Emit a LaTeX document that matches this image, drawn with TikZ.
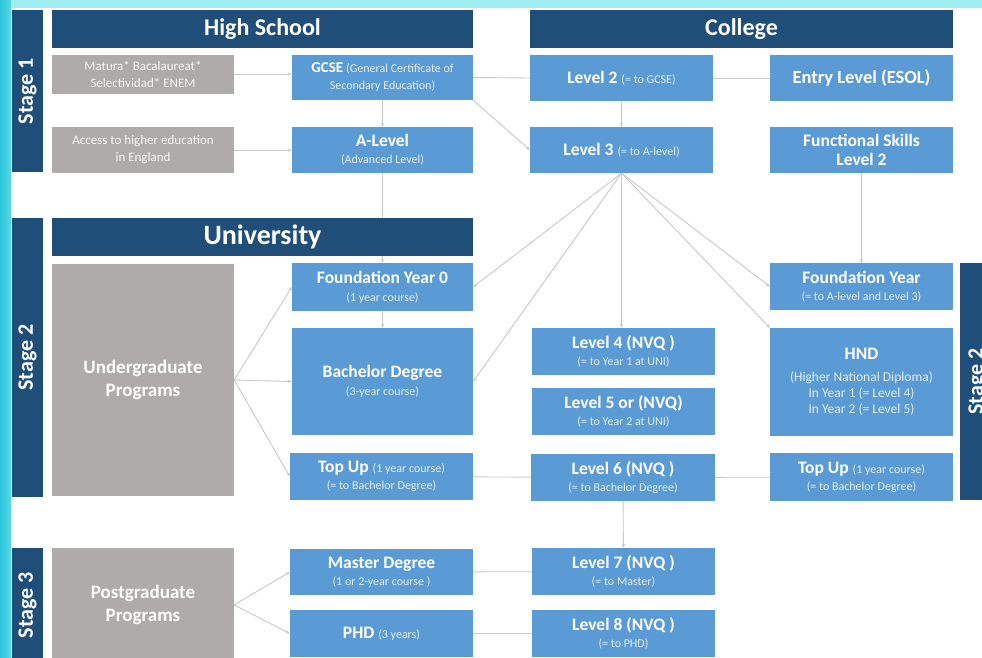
\documentclass[tikz,border=0pt]{standalone}
\usepackage{fontspec}
\setmainfont{Carlito}
\usetikzlibrary{arrows.meta}
\definecolor{navy}{HTML}{1F4E79}
\definecolor{bluebx}{HTML}{5B9BD5}
\definecolor{graybx}{HTML}{AFABAB}
\definecolor{lineg}{HTML}{C8C8C8}
\definecolor{cyanL}{HTML}{9FEFF2}
\definecolor{cyanD}{HTML}{2EC6DE}
\definecolor{subtx}{HTML}{E3EEF8}
\pgfdeclarelayer{bgfill}
\pgfdeclarelayer{lines}
\pgfsetlayers{bgfill,lines,main}
\newcommand\smtxt[1]{{\fontsize{12}{14}\selectfont\mdseries\color{subtx}#1}}
\newcommand\hndtxt[1]{{\fontsize{13.5}{15}\selectfont\mdseries\color{subtx}#1}}
\begin{document}
\begin{tikzpicture}[x=1pt,y=-1pt,
  every node/.style={inner sep=1pt, align=center, text=white},
  hdr/.style={fill=navy, font=\fontsize{24}{26}\selectfont\bfseries},
  bbox/.style={fill=bluebx, font=\fontsize{17.5}{17}\selectfont\bfseries},
  gbox/.style={fill=graybx, font=\fontsize{13}{17}\selectfont, text=white!92!graybx},
  gbig/.style={fill=graybx, font=\fontsize{19}{23}\selectfont\bfseries},
  stg/.style={fill=navy, rotate=90, font=\fontsize{22}{24}\selectfont\bfseries},
  conn/.style={draw=lineg, line width=0.9pt},
  arr/.style={conn, -{Stealth[length=4pt,width=3.5pt]}},
]
\useasboundingbox (0,0) rectangle (982,657);
\begin{pgfonlayer}{bgfill}
\fill[cyanL] (0,0) rectangle (982,657);
\shade[left color=cyanD, right color=cyanD!60!cyanL] (0,0) rectangle (11,657);
\fill[white] (11,8) rectangle (982,657);
\end{pgfonlayer}
\clip (0,0) rectangle (982,657);

% Stage bars
\node[stg, minimum width=162pt, minimum height=31pt] (s1) at (27.5,91) {Stage 1};
\node[stg, minimum width=279pt, minimum height=31pt] (s2) at (27.5,357.5) {Stage 2};
\node[stg, minimum width=114pt, minimum height=31pt] (s3) at (27.5,605) {Stage 3};
\node[stg, minimum width=237pt, minimum height=35pt] (s2r) at (977.5,381.5) {Stage 2};

% Headers
\node[hdr, minimum width=421pt, minimum height=38pt] (hs) at (262.5,29) {High School};
\node[hdr, minimum width=423pt, minimum height=38pt] (col) at (741.5,29) {College};
\node[hdr, minimum width=421pt, minimum height=38pt, font=\fontsize{28}{30}\selectfont\bfseries] (uni) at (262.5,237) {University};

% Stage 1 row
\node[gbox, minimum width=182pt, minimum height=39pt] (mat) at (143,74) {Matura* Bacalaureat*\\Selectividad* ENEM};
\node[bbox, minimum width=181pt, minimum height=45pt] (gcse) at (382.5,77.5) {{\fontsize{15}{15}\selectfont GCSE}\,\smtxt{(General Certificate of}\\\smtxt{Secondary Education)}};
\node[bbox, minimum width=183pt, minimum height=46pt] (l2) at (621.5,78) {Level 2 \smtxt{(= to GCSE)}};
\node[bbox, minimum width=183pt, minimum height=46pt, font=\fontsize{18.5}{17}\selectfont\bfseries] (entry) at (861.5,78) {Entry Level (ESOL)};
\node[gbox, minimum width=182pt, minimum height=46pt] (acc) at (143,150) {Access to higher education\\in England};
\node[bbox, minimum width=181pt, minimum height=46pt] (alev) at (382.5,150) {A-Level\\\smtxt{(Advanced Level)}};
\node[bbox, minimum width=183pt, minimum height=46pt] (l3) at (621.5,150) {Level 3 \smtxt{(= to A-level)}};
\node[bbox, minimum width=183pt, minimum height=46pt] (func) at (861.5,150) {Functional Skills\\[2pt]Level 2};

% Stage 2
\node[gbig, minimum width=182pt, minimum height=232pt] (ug) at (143,380) {Undergraduate\\Programs};
\node[bbox, minimum width=181pt, minimum height=48pt] (fy0) at (382.5,287) {Foundation Year 0\\[1pt]\smtxt{(1 year course)}};
\node[bbox, minimum width=181pt, minimum height=107pt] (bach) at (382.5,381.5) {Bachelor Degree\\[1pt]\smtxt{(3-year course)}};
\node[bbox, minimum width=183pt, minimum height=47pt] (tu1) at (381.5,476.5) {Top Up \smtxt{(1 year course)}\\\smtxt{(= to Bachelor Degree)}};
\node[bbox, minimum width=183pt, minimum height=47pt] (l4) at (623.5,351.5) {Level 4 (NVQ )\\\smtxt{(= to Year 1 at UNI)}};
\node[bbox, minimum width=183pt, minimum height=47pt] (l5) at (623.5,411.5) {Level 5 or (NVQ)\\\smtxt{(= to Year 2 at UNI)}};
\node[bbox, minimum width=184pt, minimum height=47pt] (l6) at (623,477.5) {Level 6 (NVQ )\\\smtxt{(= to Bachelor Degree)}};
\node[bbox, minimum width=183pt, minimum height=47pt] (fy) at (861.5,286.5) {Foundation Year\\\smtxt{(= to A-level and Level 3)}};
\node[bbox, minimum width=183pt, minimum height=108pt] (hnd) at (861.5,382) {HND\\[5pt]\hndtxt{(Higher National Diploma)}\\[-1pt]\hndtxt{In Year 1 (= Level 4)}\\[-1pt]\hndtxt{In Year 2 (= Level 5)}};
\node[bbox, minimum width=183pt, minimum height=48pt] (tu2) at (861.5,477) {Top Up \smtxt{(1 year course)}\\\smtxt{(= to Bachelor Degree)}};

% Stage 3
\node[gbig, minimum width=182pt, minimum height=114pt] (pg) at (143,605) {Postgraduate\\Programs};
\node[bbox, minimum width=183pt, minimum height=46pt] (ms) at (381.5,572) {Master Degree\\\smtxt{(1 or 2-year course )}};
\node[bbox, minimum width=183pt, minimum height=47pt] (phd) at (381.5,633.5) {PHD \smtxt{(3 years)}};
\node[bbox, minimum width=183pt, minimum height=47pt] (l7) at (623.5,571.5) {Level 7 (NVQ )\\\smtxt{(= to Master)}};
\node[bbox, minimum width=183pt, minimum height=47pt] (l8) at (623.5,633.5) {Level 8 (NVQ )\\\smtxt{(= to PHD)}};

% Connectors
\begin{pgfonlayer}{lines}
\draw[arr] (mat.east) -- (mat.east -| gcse.west);
\draw[conn] (gcse.east) -- (l2.west);
\draw[arr] (gcse.south east) -- (l3.west);
\draw[conn] (l2) -- (entry);
\draw[arr] (gcse) -- (alev);
\draw[arr] (l2) -- (l3);
\draw[arr] (acc) -- (alev);
\draw[arr] (alev) -- (fy0);
\draw[arr] (fy0) -- (bach);
\draw[arr] (l3.south) -- (fy0.east);
\draw[arr] (l3.south) -- (bach.east);
\draw[arr] (l3.south) -- (l3.south |- l4.north);
\draw[arr] (l3.south) -- (fy.west);
\draw[arr] (l3.south) -- (hnd.north west);
\draw[arr] (func) -- (fy);
\draw[arr] (ug.east) -- (fy0.west);
\draw[arr] (ug.east) -- (bach.west);
\draw[arr] (ug.east) -- (tu1.west);
\draw[conn] (tu1) -- (l6);
\draw[conn] (l6) -- (tu2);
\draw[arr] (l6) -- (l7);
\draw[arr] (pg.east) -- (ms.west);
\draw[arr] (pg.east) -- (phd.west);
\draw[conn] (ms) -- (l7);
\draw[conn] (phd) -- (l8);
\end{pgfonlayer}
\end{tikzpicture}
\end{document}
